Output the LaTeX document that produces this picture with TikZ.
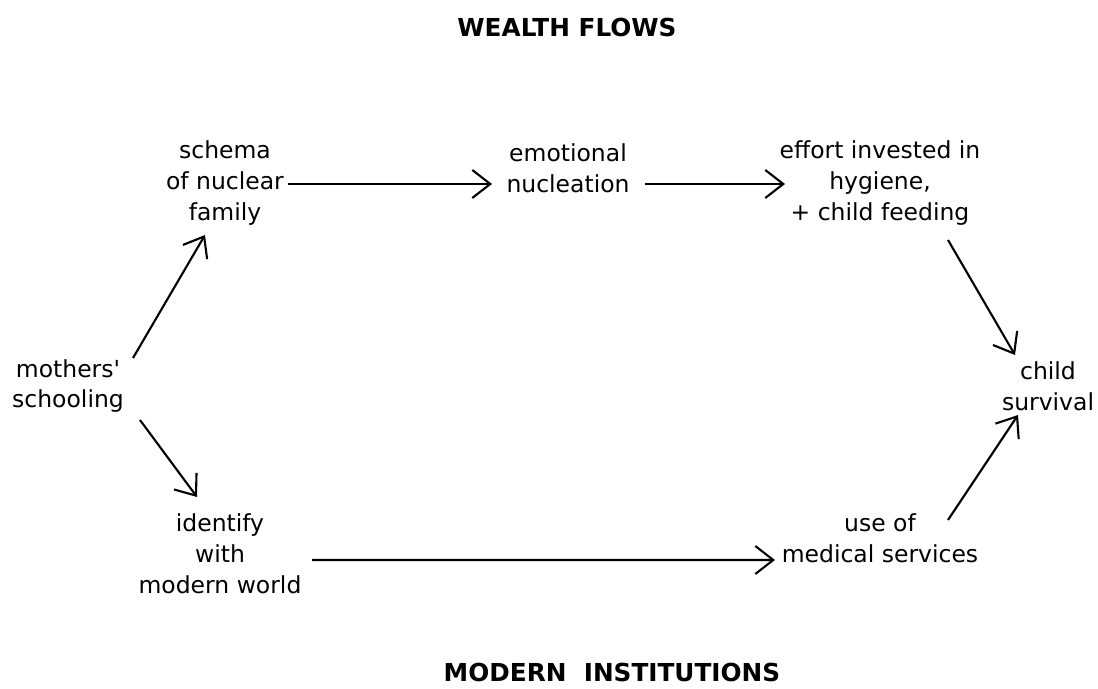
\documentclass[tikz,border=0pt]{standalone}
\usepackage{fontspec}
\setmainfont{DejaVu Sans}
\usetikzlibrary{arrows.meta,calc,positioning}
\tikzset{
  lab/.style={align=center,inner sep=2pt,font=\fontsize{16.7}{22}\selectfont},
  head/.style={inner sep=1pt,font=\fontsize{17.6}{20}\selectfont\bfseries},
  arr/.style={-{Straight Barb[length=4.5mm,width=7mm]},line width=1.5pt}
}
\begin{document}
\begin{tikzpicture}
 \useasboundingbox (0,0) rectangle (27.45,17.2);
 % headings
 \node[head] (wealth) at (14.175,16.5) {WEALTH FLOWS};
 \node[head] (modern) at (15.3,0.4) {MODERN\ \ INSTITUTIONS};
 % upper path
 \node[lab] (mothers) at (1.7,7.55) {mothers\textquotesingle\\schooling};
 \node[lab] (schema) at (5.625,12.625) {schema\\of nuclear\\family};
 \node[lab] (emotional) at (14.2,13.0) {emotional\\nucleation};
 \node[lab] (effort) at (22.0,12.625) {effort invested in\\hygiene,\\+ child feeding};
 \node[lab] (child) at (26.2,7.55) {child\\survival};
 % lower path
 \node[lab] (identify) at (5.5,3.35) {identify\\with\\modern world};
 \node[lab] (use) at (22.0,3.75) {use of\\medical services};
 % arrows
 \draw[arr] ($(mothers)+(1.625,0.7)$) -- ($(schema)+(-0.5,-1.3)$);
 \draw[arr] ($(schema)+(1.575,-0.025)$) -- ($(emotional)+(-1.9,-0.4)$);
 \draw[arr] ($(emotional)+(1.925,-0.4)$) -- ($(effort)+(-2.375,-0.025)$);
 \draw[arr] ($(effort)+(1.7,-1.425)$) -- ($(child)+(-0.825,0.775)$);
 \draw[arr] ($(mothers)+(1.8,-0.85)$) -- ($(identify)+(-0.575,1.425)$);
 \draw[arr] ($(identify)+(2.3,-0.15)$) -- ($(use)+(-2.625,-0.55)$);
 \draw[arr] ($(use)+(1.7,0.45)$) -- ($(child)+(-0.75,-0.725)$);
\end{tikzpicture}
\end{document}
